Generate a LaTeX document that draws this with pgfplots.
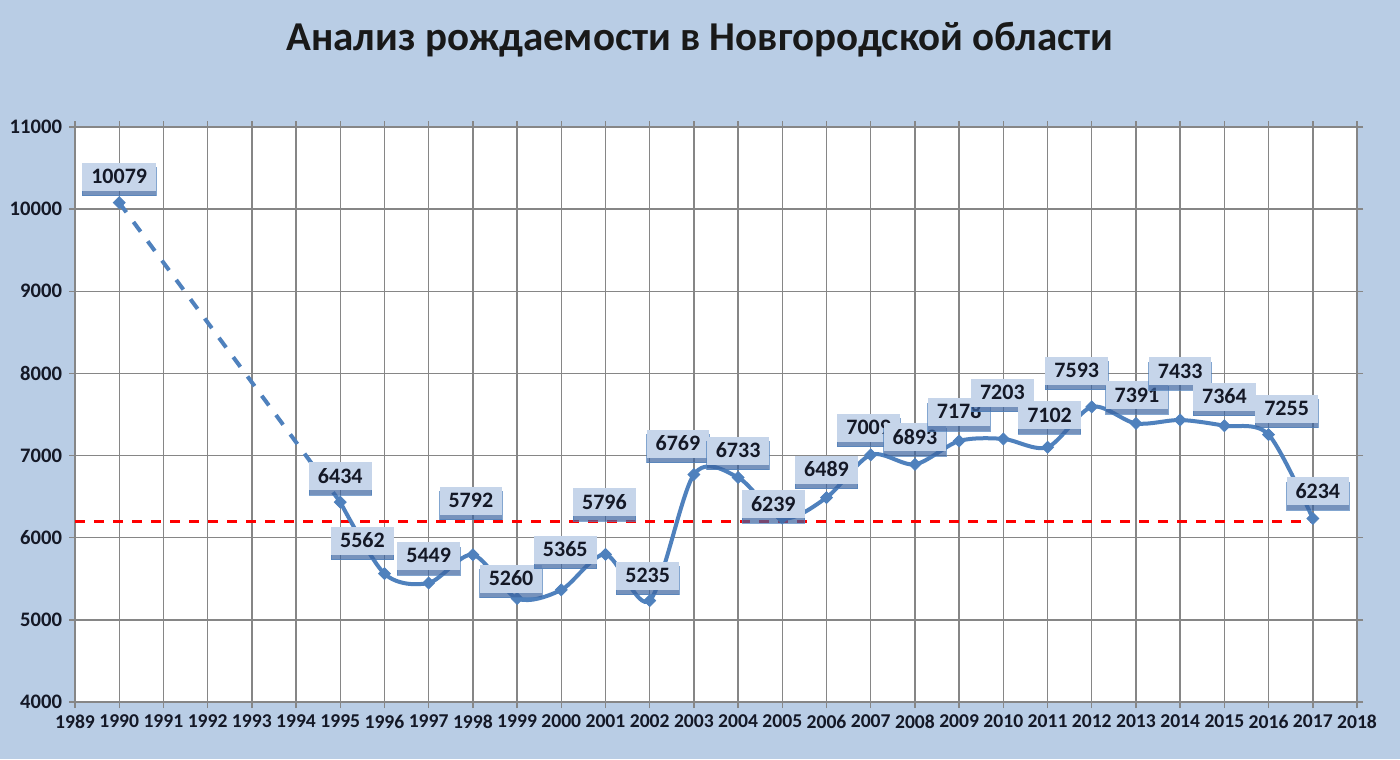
\documentclass[border=0pt]{standalone}
\usepackage{pgfplots}
\pgfplotsset{compat=1.18}
\usepackage{pgfplotstable}
\usepackage{fontspec}
\setmainfont{Carlito}
\usetikzlibrary{shadows}

\definecolor{chartbg}{RGB}{185,205,229}
\definecolor{gridgray}{RGB}{134,134,134}
\definecolor{serieblue}{RGB}{79,129,189}
\definecolor{labelfill}{RGB}{198,213,234}
\definecolor{labeltext}{RGB}{20,24,38}
\definecolor{shadowblue}{RGB}{60,100,160}

% year, births, label offset (pt)
\pgfplotstableread{
year births dx dy
1990 10079 0 13
1995 6434 0 13
1996 5562 -11 16.5
1997 5449 0 13.5
1998 5792 -1 27
1999 5260 -3 10
2000 5365 2 20
2001 5796 -0.5 26
2002 5235 -1 12.5
2003 6769 -8 15.5
2004 6733 0 13.5
2005 6239 -4.5 7
2006 6489 0 14
2007 7009 -1 13.5
2008 6893 0 13.5
2009 7178 0 14.5
2010 7203 -0.5 23
2011 7102 1 16
2012 7593 -7.5 18
2013 7391 0.5 14
2014 7433 0 24.5
2015 7364 0 14.5
2016 7255 9 13
2017 6234 2.5 13.5
}\births

\begin{document}
\begin{tikzpicture}
\useasboundingbox (0,0) rectangle (700pt,379.5pt);
\fill[chartbg] (0,0) rectangle (700pt,379.5pt);
\node[font=\fontsize{20.5}{23}\selectfont\bfseries, text=black!90] at (350pt,359.5pt)
  {Анализ рождаемости в Новгородской области};
\begin{axis}[
    at={(37.5pt,28.5pt)}, anchor=south west,
    scale only axis,
    width=641pt, height=287.5pt,
    xmin=1989, xmax=2018,
    ymin=4000, ymax=11000,
    xtick distance=1,
    ytick distance=1000,
    scaled y ticks=false,
    grid=major,
    grid style={gridgray, line width=0.7pt},
    axis line style={gridgray, line width=0.7pt},
    tick style={gridgray, line width=0.7pt},
    tick align=outside,
    major tick length=3pt,
    axis background/.style={fill=white},
    /pgf/number format/assume math mode=true,
    /pgf/number format/1000 sep={},
    x tick label style={font=\fontsize{9.8}{11}\selectfont\bfseries, text=labeltext},
    y tick label style={font=\fontsize{10.3}{12}\selectfont\bfseries, text=labeltext},
    clip=false,
]
    % reference level
    \addplot[red, line width=1.75pt, dash pattern=on 5pt off 4.5pt] coordinates {
        (1989, 6200)
        (2017, 6200)
    };
    % gap in data 1990-1995
    \addplot[serieblue, line width=2pt, dash pattern=on 6pt off 6pt,
        skip coords between index={2}{24}] table[x=year, y=births] {\births};
    % smoothed series
    \addplot[serieblue, line width=2pt, smooth, tension=0.5,
        skip coords between index={0}{1}] table[x=year, y=births] {\births};
    % markers and labels
    \addplot[only marks, mark=square*, mark size=2.1pt,
        mark options={rotate=45, fill=serieblue, draw=serieblue},
        point meta=explicit symbolic,
        visualization depends on={\thisrow{dx} \as \dx},
        visualization depends on={\thisrow{dy} \as \dy},
        nodes near coords,
        every node near coord/.append style={
            anchor=center, xshift=\dx*1pt, yshift=\dy*1pt,
            fill=labelfill, text=labeltext,
            font=\fontsize{11}{12}\selectfont\bfseries,
            text height=7pt, text depth=0pt,
            inner xsep=4.5pt, inner ysep=3.5pt,
            drop shadow={shadow xshift=0pt, shadow yshift=-2.5pt,
                fill=shadowblue, opacity=0.7},
        },
    ] table[x=year, y=births, meta=births] {\births};
\end{axis}
\end{tikzpicture}
\end{document}
